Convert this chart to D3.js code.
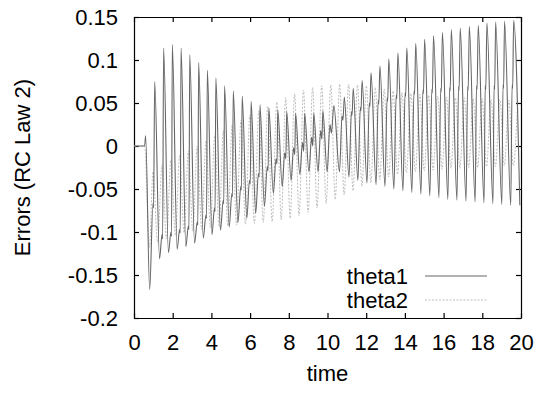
<!DOCTYPE html>
<html>
<head>
<meta charset="utf-8">
<script src="https://cdn.jsdelivr.net/npm/d3@7"></script>
<style>
  html, body { margin: 0; padding: 0; background: #fff; }
  svg text { font-family: "Liberation Sans", Arial, Helvetica, sans-serif; fill: #000; }
  .axis path, .axis line { stroke: #000; stroke-width: 1.2; }
  .axis text { font-size: 22px; }
  .theta1 { fill: none; stroke: #666; stroke-width: 1.1; }
  .theta2 { fill: none; stroke: #bdbdbd; stroke-width: 1; stroke-dasharray: 2,1.5; }
</style>
</head>
<body>
<svg id="chart" width="540" height="393"></svg>
<script>
// both series sit at zero before the motion starts
const startT = [0, 0.55];
const startV = [0, 0];

// theta1 (solid): peaks, troughs and the small shoulder + dip on each rising edge
const theta1PeakT = [0.60, 1.07, 1.53, 1.98, 2.43, 2.88, 3.34, 3.79, 4.23, 4.68, 5.13, 5.59, 6.05, 6.51, 6.97,
  7.43, 7.89, 8.35, 8.82, 9.29, 9.76, 10.33, 10.87, 11.33, 11.79, 12.25, 12.71, 13.17, 13.64, 14.10,
  14.56, 15.02, 15.48, 15.94, 16.40, 16.86, 17.33, 17.79, 18.24, 18.69, 19.15, 19.62];
const theta1PeakV = [0.012, 0.075, 0.114, 0.118, 0.114, 0.106, 0.097, 0.088, 0.079, 0.070, 0.064, 0.058, 0.052, 0.048, 0.044,
  0.042, 0.040, 0.038, 0.038, 0.038, 0.041, 0.047, 0.057, 0.067, 0.076, 0.085, 0.093, 0.101, 0.108, 0.114,
  0.119, 0.124, 0.128, 0.132, 0.135, 0.137, 0.139, 0.140, 0.143, 0.144, 0.145, 0.146];
const theta1TroughT = [0.81, 1.32, 1.78, 2.23, 2.68, 3.13, 3.58, 4.03, 4.47, 4.92, 5.37, 5.83, 6.29, 6.74, 7.20,
  7.66, 8.12, 8.57, 9.04, 9.51, 9.98, 10.62, 11.11, 11.57, 12.04, 12.51, 12.97, 13.43, 13.90, 14.36,
  14.83, 15.29, 15.76, 16.22, 16.69, 17.16, 17.63, 18.09, 18.55, 19.01, 19.47, 19.94];
const theta1TroughV = [-0.167, -0.131, -0.124, -0.120, -0.117, -0.113, -0.107, -0.103, -0.098, -0.094, -0.089, -0.084, -0.078, -0.070, -0.055,
  -0.047, -0.040, -0.033, -0.030, -0.030, -0.030, -0.030, -0.036, -0.040, -0.043, -0.045, -0.047, -0.050, -0.052, -0.054,
  -0.056, -0.058, -0.060, -0.062, -0.063, -0.064, -0.065, -0.066, -0.067, -0.068, -0.069, -0.069];
const theta1KinkT = [0.98, 1.45, 1.91, 2.36, 2.81, 3.27, 3.72, 4.16, 4.61, 5.06, 5.52, 5.97, 6.43, 6.89, 7.34,
  7.79, 8.25, 8.71, 9.18, 9.65, 10.13, 10.75, 11.24, 11.70, 12.16, 12.62, 13.08, 13.55, 14.01, 14.47,
  14.93, 15.39, 15.85, 16.31, 16.77, 17.24, 17.70, 18.15, 18.61, 19.07, 19.54];
const theta1KinkV = [-0.067, -0.103, -0.100, -0.097, -0.093, -0.088, -0.080, -0.072, -0.063, -0.055, -0.047, -0.040, -0.032, -0.024, -0.015,
  -0.008, -0.002, 0.004, 0.010, 0.018, 0.025, 0.035, 0.040, 0.045, 0.050, 0.053, 0.056, 0.059, 0.062, 0.064,
  0.065, 0.066, 0.067, 0.068, 0.069, 0.069, 0.070, 0.070, 0.070, 0.071, 0.071];
const theta1DipT = [1.01, 1.48, 1.94, 2.39, 2.84, 3.30, 3.75, 4.19, 4.64, 5.09, 5.55, 6.01, 6.47, 6.93, 7.39,
  7.85, 8.31, 8.77, 9.24, 9.71, 10.20, 10.80, 11.27, 11.73, 12.19, 12.65, 13.11, 13.58, 14.04, 14.50,
  14.96, 15.42, 15.88, 16.34, 16.80, 17.27, 17.73, 18.18, 18.64, 19.10, 19.57];
const theta1DipV = [-0.072, -0.108, -0.105, -0.101, -0.097, -0.092, -0.084, -0.076, -0.067, -0.059, -0.051, -0.044, -0.036, -0.029, -0.021,
  -0.015, -0.010, -0.006, 0.000, 0.008, 0.015, 0.030, 0.036, 0.041, 0.046, 0.049, 0.052, 0.055, 0.058, 0.060,
  0.061, 0.062, 0.063, 0.064, 0.065, 0.065, 0.066, 0.066, 0.066, 0.067, 0.067];

// theta2 (dotted): a smoother wave, peaks and troughs only
const theta2PeakT = [0.98, 1.45, 1.91, 2.36, 2.81, 3.27, 3.72, 4.17, 4.62, 5.07, 5.53, 5.99, 6.45, 6.91,
  7.38, 7.84, 8.30, 8.76, 9.23, 9.70, 10.17, 10.63, 11.09, 11.55, 12.01, 12.47, 12.93, 13.39,
  13.85, 14.31, 14.77, 15.23, 15.69, 16.15, 16.61, 17.07, 17.53, 17.99, 18.45, 18.91, 19.37, 19.83];
const theta2PeakV = [-0.030, -0.022, -0.016, -0.011, -0.006, 0.000, 0.006, 0.012, 0.018, 0.024, 0.030, 0.036, 0.041, 0.046,
  0.051, 0.056, 0.061, 0.065, 0.068, 0.070, 0.071, 0.072, 0.072, 0.071, 0.070, 0.068, 0.066, 0.064,
  0.062, 0.061, 0.060, 0.059, 0.058, 0.057, 0.056, 0.056, 0.055, 0.055, 0.054, 0.054, 0.053, 0.053];
const theta2TroughT = [0.80, 1.22, 1.68, 2.14, 2.59, 3.04, 3.50, 3.95, 4.40, 4.85, 5.30, 5.76, 6.22, 6.68,
  7.14, 7.61, 8.07, 8.53, 9.00, 9.46, 9.93, 10.40, 10.86, 11.32, 11.78, 12.24, 12.70, 13.16,
  13.62, 14.08, 14.54, 15.00, 15.46, 15.92, 16.38, 16.84, 17.30, 17.76, 18.22, 18.68, 19.14, 19.60];
const theta2TroughV = [-0.118, -0.112, -0.108, -0.104, -0.101, -0.099, -0.097, -0.095, -0.094, -0.093, -0.092, -0.091, -0.090, -0.089,
  -0.088, -0.086, -0.084, -0.081, -0.077, -0.072, -0.067, -0.062, -0.057, -0.052, -0.047, -0.043, -0.039, -0.036,
  -0.033, -0.031, -0.030, -0.029, -0.028, -0.027, -0.026, -0.026, -0.025, -0.025, -0.024, -0.024, -0.023, -0.023];

const xTicks = [0, 2, 4, 6, 8, 10, 12, 14, 16, 18, 20];
const yTicks = [-0.2, -0.15, -0.1, -0.05, 0, 0.05, 0.1, 0.15];
const yTickLabels = ["-0.2", "-0.15", "-0.1", "-0.05", "0", "0.05", "0.1", "0.15"];
const seriesNames = ["theta1", "theta2"];

const svgEl = d3.select("#chart");
const viewW = 540, viewH = 393;
const margin = { top: 17, right: 19, bottom: 75, left: 134 };
const innerW = viewW - margin.left - margin.right;
const innerH = viewH - margin.top - margin.bottom;

const g = svgEl.append("g").attr("transform", `translate(${margin.left},${margin.top})`);

const xScale = d3.scaleLinear().domain([0, 20]).range([0, innerW]);
const yScale = d3.scaleLinear().domain([-0.2, 0.15]).range([innerH, 0]);

// gnuplot style: inward ticks, mirrored on top and right
g.append("g").attr("class", "axis").attr("transform", `translate(0,${innerH})`)
  .call(d3.axisBottom(xScale).tickValues(xTicks).tickSize(-5).tickSizeOuter(0).tickPadding(16));
g.append("g").attr("class", "axis")
  .call(d3.axisTop(xScale).tickValues(xTicks).tickSize(-5).tickSizeOuter(0).tickFormat(""));
g.append("g").attr("class", "axis")
  .call(d3.axisLeft(yScale).tickValues(yTicks).tickSize(-5).tickSizeOuter(0).tickPadding(16)
    .tickFormat((d, i) => yTickLabels[i]));
g.append("g").attr("class", "axis").attr("transform", `translate(${innerW},0)`)
  .call(d3.axisRight(yScale).tickValues(yTicks).tickSize(-5).tickSizeOuter(0).tickFormat(""));

svgEl.selectAll(".axis .domain").attr("stroke-width", 1.5);

// merge the feature arrays into one time-ordered list per series
function zipPts(ts, vs) { return ts.map((t, i) => ({ t: t, v: vs[i] })); }
const theta1Data = [].concat(
  zipPts(startT, startV), zipPts(theta1PeakT, theta1PeakV), zipPts(theta1TroughT, theta1TroughV),
  zipPts(theta1KinkT, theta1KinkV), zipPts(theta1DipT, theta1DipV)
).sort((a, b) => a.t - b.t);
const theta2Data = [].concat(
  zipPts(startT, startV), zipPts(theta2PeakT, theta2PeakV), zipPts(theta2TroughT, theta2TroughV)
).sort((a, b) => a.t - b.t);

g.append("clipPath").attr("id", "plot-clip")
  .append("rect").attr("width", innerW).attr("height", innerH);

const plot = g.append("g").attr("clip-path", "url(#plot-clip)");
const lineGen = d3.line().x(d => xScale(d.t)).y(d => yScale(d.v)).curve(d3.curveMonotoneX);

plot.append("path").datum(theta2Data).attr("class", "theta2").attr("d", lineGen);
plot.append("path").datum(theta1Data).attr("class", "theta1").attr("d", lineGen);

/* ---------- legend ---------- */
const legend = g.append("g");
seriesNames.forEach((name, i) => {
  const ly = 259 + i * 24;
  legend.append("text").attr("x", 274).attr("y", ly).attr("dy", "0.35em")
    .attr("text-anchor", "end").style("font-size", "22px").text(name);
  legend.append("line").attr("class", i === 0 ? "theta1" : "theta2")
    .attr("x1", 291).attr("x2", 353).attr("y1", ly).attr("y2", ly);
});

/* ---------- axis titles ---------- */
svgEl.append("text").attr("x", margin.left + innerW / 2).attr("y", 381)
  .attr("text-anchor", "middle").style("font-size", "22px").text("time");
svgEl.append("text").attr("transform", `translate(30,${margin.top + innerH / 2}) rotate(-90)`)
  .attr("text-anchor", "middle").style("font-size", "22px").text("Errors (RC Law 2)");
</script>
</body>
</html>
